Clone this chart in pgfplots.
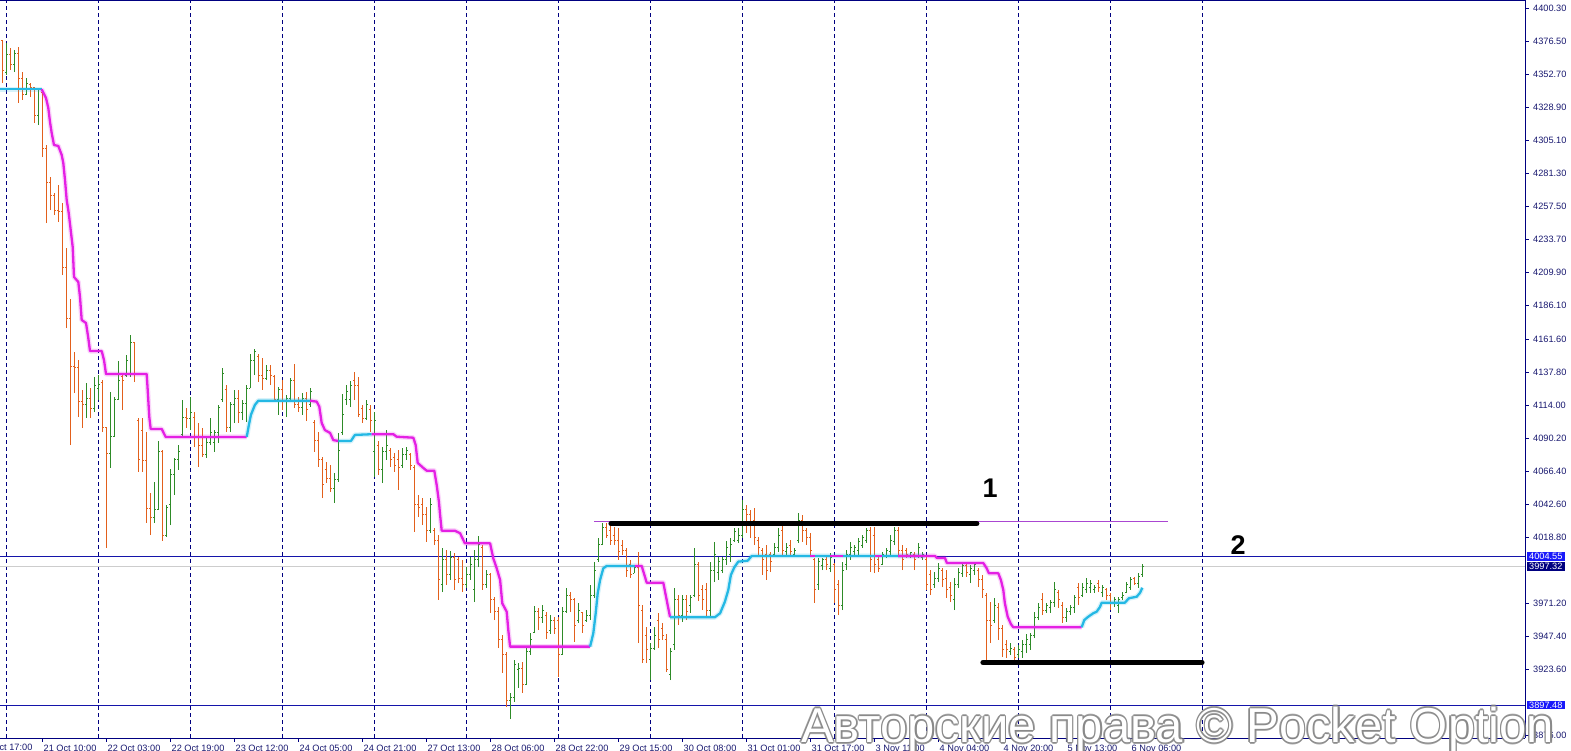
\documentclass[border=0pt]{standalone}
\usepackage{pgfplots}
\pgfplotsset{compat=1.18}
\usepackage{pgfplotstable}
\usepackage{fontspec}
\setmainfont{Liberation Sans}
\definecolor{barup}{RGB}{46,139,40}
\definecolor{bardn}{RGB}{226,96,28}
\definecolor{mag}{RGB}{228,32,228}
\definecolor{cy}{RGB}{36,184,228}
\definecolor{navyc}{RGB}{0,0,128}
\definecolor{hline}{RGB}{20,20,170}
\definecolor{greyl}{RGB}{205,205,205}
\definecolor{purp}{RGB}{170,70,210}
\definecolor{lblblue}{RGB}{25,25,250}
\definecolor{lbl}{RGB}{25,25,112}
\definecolor{wmgrey}{RGB}{135,135,135}
\newcommand{\tf}{\fontsize{9.2pt}{11pt}\selectfont}
\newcommand{\wmf}{\fontsize{49pt}{49pt}\selectfont}
\tikzset{
  magl/.style={draw=mag, line width=2.3pt, line join=round, preaction={draw=mag, line width=5pt, draw opacity=0.18}},
  cyl/.style={draw=cy, line width=2.3pt, line join=round, preaction={draw=cy, line width=5pt, draw opacity=0.18}},
}
\pgfplotsset{
  hl/.style={draw=none, mark=none, forget plot, error bars/.cd, y dir=plus, y explicit, error mark=none, error bar style={draw=#1, draw opacity=1, line width=1.2pt}},
  tkl/.style={draw=none, mark=none, forget plot, error bars/.cd, x dir=minus, x explicit, error mark=none, error bar style={draw=#1, draw opacity=1, line width=1pt}},
  tkr/.style={draw=none, mark=none, forget plot, error bars/.cd, x dir=plus, x explicit, error mark=none, error bar style={draw=#1, draw opacity=1, line width=1pt}},
}

\pgfplotstableread{
k o h l c
1 4354.1 4375.1 4352.0 4366.4
3 4359.2 4370.0 4354.1 4367.8
6 4337.6 4349.8 4337.6 4346.2
9 4323.1 4342.6 4315.9 4341.2
21 4114.0 4129.7 4104.6 4119.0
23 4111.8 4134.2 4108.9 4128.3
24 4126.2 4135.6 4117.6 4129.0
27 4078.7 4123.4 4068.6 4090.9
28 4090.9 4119.7 4090.9 4118.3
29 4118.3 4145.7 4117.6 4132.0
31 4134.9 4150.0 4134.2 4146.4
32 4137.0 4164.5 4134.2 4158.7
38 4032.5 4058.5 4028.9 4038.3
39 4038.3 4088.3 4038.3 4080.1
41 4019.5 4041.9 4018.8 4040.4
42 4041.9 4067.8 4027.4 4063.5
43 4063.5 4075.8 4049.1 4074.4
44 4074.4 4085.1 4067.1 4080.8
45 4092.4 4117.6 4090.2 4105.3
47 4104.6 4119.7 4095.9 4108.9
51 4078.0 4090.9 4075.8 4086.6
52 4086.6 4104.6 4085.1 4094.5
53 4086.6 4095.9 4080.1 4093.8
54 4093.8 4114.0 4086.6 4112.5
55 4117.6 4140.7 4116.2 4137.0
57 4097.4 4116.2 4094.5 4114.0
58 4114.0 4124.8 4101.0 4119.0
60 4108.9 4117.6 4103.1 4115.4
61 4115.4 4128.3 4101.7 4126.2
62 4126.2 4150.8 4126.2 4146.4
63 4146.4 4154.4 4135.6 4152.2
66 4133.4 4142.5 4132.0 4138.9
69 4117.6 4127.0 4106.8 4124.8
71 4116.2 4121.2 4105.3 4119.0
72 4119.0 4133.4 4116.2 4132.0
75 4112.5 4122.6 4106.8 4119.0
77 4114.0 4126.2 4112.5 4123.4
83 4054.1 4064.9 4043.3 4059.9
84 4059.9 4093.8 4058.5 4081.5
85 4094.5 4121.9 4092.4 4106.8
86 4117.6 4128.3 4114.0 4123.4
87 4117.6 4131.3 4112.5 4128.3
91 4104.6 4117.6 4103.1 4114.0
93 4080.1 4108.9 4062.0 4103.1
95 4067.1 4083.7 4057.7 4080.1
96 4080.1 4095.9 4074.4 4085.1
100 4070.7 4083.0 4068.6 4078.0
101 4078.0 4083.7 4074.4 4081.5
107 4023.6 4046.9 4021.7 4041.9
110 3984.2 4010.9 3979.1 4002.2
112 3991.4 4008.7 3987.8 4003.7
116 3984.2 3997.1 3982.0 3991.4
117 3991.4 4004.4 3987.8 3998.6
118 3980.6 4009.4 3971.9 4002.2
119 4002.2 4019.5 3997.1 4013.4
121 3984.2 3994.9 3982.0 3991.4
127 3901.2 3906.3 3887.5 3902.7
128 3902.7 3930.1 3899.8 3926.5
129 3922.9 3927.9 3909.9 3924.3
131 3912.1 3938.7 3912.1 3935.9
132 3935.9 3949.8 3933.7 3945.2
133 3949.8 3969.0 3949.8 3964.7
135 3960.4 3969.7 3956.8 3966.1
137 3951.7 3962.5 3949.1 3958.9
140 3933.7 3968.3 3933.7 3964.7
141 3964.7 3982.0 3964.0 3976.9
144 3958.9 3971.2 3956.8 3966.1
146 3958.9 3966.1 3957.5 3962.5
147 3962.5 3984.2 3958.9 3976.9
148 3976.9 4000.8 3974.8 3994.9
149 4002.2 4018.1 4000.8 4013.4
150 4013.4 4028.9 4013.0 4025.3
158 3992.8 3998.6 3992.8 3997.1
162 3930.1 3942.3 3915.6 3938.7
163 3938.7 3953.9 3937.3 3948.1
167 3919.3 3938.7 3915.6 3935.9
168 3940.9 3982.0 3937.3 3973.4
170 3962.5 3976.9 3957.5 3973.4
172 3969.7 3976.9 3964.0 3974.8
173 3976.9 4011.0 3975.5 3998.6
177 3966.1 4000.8 3961.1 3994.9
178 3994.9 4015.2 3986.3 4005.8
179 3993.5 4004.4 3987.8 4000.8
180 3994.9 4004.4 3992.8 4002.2
181 4002.2 4016.0 3998.6 4010.9
182 4005.8 4018.1 4000.8 4013.4
183 4016.6 4025.3 4015.2 4022.4
184 4016.6 4025.3 4014.5 4020.2
185 4020.2 4045.5 4018.1 4038.3
193 4005.8 4014.5 4004.4 4010.9
194 4010.9 4025.3 4008.0 4020.2
196 4008.0 4014.5 4004.4 4010.9
198 4005.8 4010.9 4004.4 4009.4
199 4016.6 4036.1 4014.5 4030.5
204 3984.2 4003.7 3980.6 4000.8
205 3997.9 4003.7 3994.9 4002.2
207 3996.4 4007.3 3993.5 4003.7
210 3969.7 4000.8 3966.1 3994.9
211 3998.6 4009.4 3994.9 4005.8
212 4005.8 4015.2 4002.2 4010.9
213 4008.0 4013.0 4004.4 4010.9
214 4009.4 4018.1 4005.8 4015.2
215 4013.0 4020.2 4010.9 4018.1
216 4016.6 4025.3 4014.5 4023.6
220 3998.6 4008.0 3998.6 4005.8
221 4005.1 4010.9 4003.7 4009.4
222 4008.0 4020.2 4004.4 4016.6
223 4015.2 4026.0 4013.0 4023.6
227 4004.4 4008.0 4003.7 4007.3
229 4005.1 4014.5 4003.7 4010.9
230 4003.7 4008.0 4002.2 4006.5
233 3984.2 3993.5 3982.0 3989.2
234 3989.2 4000.0 3986.3 3996.4
238 3973.4 3989.2 3966.1 3984.2
239 3984.2 3996.4 3982.0 3993.5
240 3992.8 4000.0 3990.0 3997.9
242 3991.4 3998.6 3985.6 3996.4
243 3994.9 4000.0 3991.4 3998.6
248 3958.9 3974.8 3956.8 3969.7
252 3935.9 3942.3 3933.7 3938.7
254 3933.7 3940.9 3931.5 3937.3
255 3935.9 3944.5 3931.5 3940.9
256 3940.9 3949.1 3935.1 3944.5
257 3940.9 3949.8 3937.3 3948.1
258 3948.1 3964.7 3945.9 3960.4
259 3960.4 3971.2 3958.9 3967.6
261 3966.1 3971.2 3964.0 3969.7
262 3967.6 3973.4 3964.0 3971.2
263 3971.2 3986.3 3968.3 3980.6
266 3960.4 3967.6 3957.5 3964.7
267 3964.7 3969.7 3962.5 3967.6
268 3967.6 3976.9 3964.0 3974.8
270 3976.9 3985.6 3975.5 3982.0
271 3980.6 3989.2 3978.4 3985.6
272 3982.0 3987.8 3978.4 3985.6
273 3980.6 3984.2 3978.4 3982.7
275 3979.1 3984.2 3975.5 3982.0
278 3971.2 3975.5 3968.3 3973.4
279 3969.7 3975.5 3964.0 3973.4
280 3974.8 3979.1 3973.4 3976.9
281 3979.1 3986.3 3978.4 3984.2
282 3982.0 3990.0 3980.6 3987.8
284 3985.6 3992.8 3982.0 3990.0
285 3991.4 3999.4 3990.0 3997.3
}\upbars

\pgfplotstableread{
k o h l c
0 4376.5 4377.2 4346.2 4354.9
2 4366.4 4371.5 4355.6 4359.2
4 4367.8 4372.2 4331.8 4349.8
5 4349.8 4354.1 4334.0 4337.6
7 4344.8 4346.2 4336.1 4342.6
8 4342.6 4343.3 4317.4 4323.1
10 4339.7 4341.2 4292.8 4299.3
11 4299.3 4301.5 4245.2 4274.1
12 4274.1 4278.4 4254.6 4265.4
13 4265.4 4266.9 4251.0 4254.6
14 4254.6 4272.6 4245.9 4253.2
15 4253.2 4259.7 4207.7 4212.8
16 4212.8 4227.2 4169.5 4176.0
17 4176.0 4190.4 4085.1 4141.4
18 4141.4 4152.2 4122.6 4140.7
19 4140.7 4146.4 4105.3 4116.2
20 4116.2 4124.8 4097.4 4114.0
22 4119.0 4126.2 4104.6 4111.8
25 4130.5 4132.0 4094.5 4097.4
26 4097.4 4098.1 4010.9 4078.7
30 4134.2 4135.6 4110.4 4132.0
33 4158.7 4159.4 4130.5 4137.0
34 4103.1 4104.6 4065.7 4074.4
35 4095.9 4104.6 4065.7 4073.6
36 4073.6 4094.5 4028.9 4039.0
37 4039.0 4050.5 4020.2 4032.5
40 4080.1 4081.5 4015.9 4019.5
46 4105.3 4111.8 4097.4 4104.6
48 4105.3 4108.9 4083.7 4090.9
49 4090.9 4101.0 4069.3 4085.1
50 4085.1 4097.4 4076.5 4078.0
56 4124.8 4128.3 4094.5 4097.4
59 4119.0 4124.8 4101.0 4108.9
64 4149.3 4150.8 4130.5 4135.6
65 4135.6 4147.9 4124.8 4133.4
67 4138.9 4142.5 4128.3 4135.6
68 4134.2 4135.6 4116.2 4117.6
70 4124.8 4132.0 4110.4 4116.2
73 4132.0 4143.9 4111.8 4114.0
74 4114.0 4119.7 4108.9 4112.5
76 4119.0 4123.4 4102.4 4110.4
78 4101.7 4103.1 4080.1 4088.3
79 4088.3 4094.5 4069.3 4074.4
80 4074.4 4076.5 4046.9 4056.3
81 4067.1 4072.9 4057.7 4061.3
82 4061.3 4070.7 4051.2 4054.1
88 4132.0 4137.8 4117.6 4128.3
89 4128.3 4134.2 4105.3 4106.8
90 4111.8 4114.0 4101.0 4104.6
92 4110.4 4114.0 4094.5 4103.1
94 4085.1 4088.0 4063.5 4067.1
97 4081.5 4083.0 4069.3 4074.4
98 4075.8 4079.4 4065.7 4070.7
99 4074.4 4081.5 4052.7 4068.6
102 4078.0 4079.4 4067.1 4070.7
103 4068.6 4070.7 4022.4 4041.9
104 4041.9 4049.1 4033.2 4039.7
105 4041.9 4046.9 4027.4 4034.7
106 4034.7 4040.4 4015.2 4023.6
108 4023.6 4025.3 4013.0 4016.6
109 4016.6 4020.2 3973.4 3987.8
111 4002.2 4009.4 3984.2 3991.4
113 4003.7 4007.3 3980.6 3987.8
114 4002.2 4004.4 3985.6 3989.2
115 3989.2 4002.2 3979.1 3984.2
120 4010.9 4013.0 3980.6 3984.2
122 3991.4 3992.8 3964.0 3973.4
123 3973.4 3975.5 3958.9 3964.7
124 3964.7 3968.3 3938.7 3944.5
125 3944.5 3948.1 3920.7 3933.7
126 3933.7 3935.9 3896.2 3901.2
130 3924.3 3928.6 3906.3 3912.1
134 3964.7 3967.6 3951.7 3960.4
136 3962.5 3964.7 3945.2 3949.8
138 3958.9 3961.1 3949.1 3953.1
139 3958.9 3961.1 3917.8 3933.7
142 3976.9 3979.1 3964.7 3973.4
143 3973.4 3974.8 3943.1 3955.3
145 3964.0 3964.7 3949.8 3955.3
151 4025.3 4028.9 4018.1 4020.2
152 4023.6 4028.9 4013.0 4016.6
153 4020.2 4026.0 4013.0 4016.6
154 4016.6 4025.3 4002.2 4008.0
155 4013.0 4016.6 4005.8 4009.4
156 4009.4 4011.0 3990.0 3994.9
157 3998.6 4002.2 3989.2 3991.4
159 3997.1 4008.0 3942.3 3969.7
160 3966.1 3969.7 3927.9 3930.1
161 3948.1 3953.9 3927.9 3937.3
164 3958.9 3964.0 3938.7 3944.5
165 3953.1 3956.8 3944.5 3948.1
166 3944.5 3949.1 3921.4 3922.9
169 3973.4 3976.9 3955.3 3962.5
171 3973.4 3976.9 3958.9 3964.7
174 3998.6 4000.8 3972.6 3976.9
175 3980.6 3984.2 3966.1 3973.4
176 3980.6 3985.6 3961.1 3966.1
186 4038.3 4041.9 4021.7 4034.7
187 4034.7 4038.3 4018.1 4027.4
188 4030.5 4039.7 4013.0 4018.1
189 4016.6 4018.8 4005.8 4010.9
190 4009.4 4010.9 3991.4 4002.2
191 4005.8 4013.0 3987.8 3994.9
192 4005.8 4008.0 3993.5 4000.8
195 4023.6 4027.4 4005.8 4009.4
197 4013.0 4016.6 4004.4 4008.0
200 4030.5 4034.7 4015.2 4023.6
201 4023.6 4025.3 4013.0 4018.1
202 4018.1 4021.7 4004.4 4009.4
203 4002.2 4003.7 3971.2 3980.6
206 4002.2 4004.4 3994.9 3998.6
208 3998.6 4000.0 3971.2 3980.6
209 3984.2 3987.8 3962.5 3969.7
217 4023.6 4026.0 3993.5 4002.2
218 4020.2 4026.0 3992.8 3998.6
219 4002.2 4004.4 3993.5 3996.4
224 4023.6 4026.0 4005.8 4009.4
225 4009.4 4013.0 3994.9 4002.2
226 4009.4 4011.0 4003.7 4005.8
228 4005.8 4008.0 3994.9 4002.2
231 4002.2 4004.4 3980.6 3984.2
232 3991.4 3994.9 3976.9 3980.6
235 3994.9 3996.4 3982.7 3987.8
236 3989.2 3994.9 3974.8 3980.6
237 3982.0 3986.3 3971.9 3976.9
241 3997.9 4000.0 3990.0 3993.5
244 3994.9 3996.4 3982.7 3987.8
245 3987.8 3991.4 3974.8 3980.6
246 3976.9 3978.4 3928.6 3958.9
247 3958.9 3971.9 3942.3 3955.3
249 3967.6 3971.2 3944.5 3953.1
250 3953.1 3955.3 3932.2 3937.3
251 3940.9 3944.5 3931.5 3937.3
253 3937.3 3939.4 3930.1 3932.2
260 3973.4 3978.4 3962.5 3966.1
264 3979.1 3980.6 3967.6 3973.4
265 3969.7 3971.9 3956.8 3960.4
269 3982.0 3985.6 3969.7 3974.8
274 3985.6 3987.8 3979.1 3982.0
276 3980.6 3982.0 3973.4 3976.9
277 3976.9 3978.4 3966.1 3971.9
283 3988.5 3990.0 3984.2 3985.6
}\dnbars

\begin{document}
\begin{tikzpicture}
\path[use as bounding box] (0,-13pt) rectangle (1571pt,738pt);
\begin{axis}[
  at={(0,0)}, anchor=south west,
  scale only axis, width=1525pt, height=738pt,
  xmin=-0.625, xmax=380.625, ymin=3873.82, ymax=4406.07,
  axis x line*=bottom, axis y line*=right,
  axis line style={navyc, line width=0.9pt},
  clip=false,
  xtick={9.875,25.875,41.875,57.875,73.875,89.875,105.875,121.875,137.875,153.875,169.875,185.875,201.875,217.875,233.875,249.875,265.875,281.875},
  xticklabels={21 Oct 10:00,22 Oct 03:00,22 Oct 19:00,23 Oct 12:00,24 Oct 05:00,24 Oct 21:00,27 Oct 13:00,28 Oct 06:00,28 Oct 22:00,29 Oct 15:00,30 Oct 08:00,31 Oct 01:00,31 Oct 17:00,3 Nov 11:00,4 Nov 04:00,4 Nov 20:00,5 Nov 13:00,6 Nov 06:00},
  xticklabel style={anchor=north west, inner sep=0pt, xshift=1.5pt, yshift=-2.5pt, font=\tf, text=lbl},
  ytick={4400.30,4376.50,4352.70,4328.90,4305.10,4281.30,4257.50,4233.70,4209.90,4186.10,4161.60,4137.80,4114.00,4090.20,4066.40,4042.60,4018.80,3971.20,3947.40,3923.60,3876.00},
  yticklabels={4400.30,4376.50,4352.70,4328.90,4305.10,4281.30,4257.50,4233.70,4209.90,4186.10,4161.60,4137.80,4114.00,4090.20,4066.40,4042.60,4018.80,3971.20,3947.40,3923.60,3876.00},
  yticklabel style={anchor=west, inner sep=0pt, xshift=4pt, font=\tf, text=lbl},
  tick align=outside, major tick length=4pt,
  tick style={navyc, line width=0.8pt},
  extra x ticks={1,24,47,70,93,116,139,162,185,208,231,254,277,300},
  extra x tick labels={},
  extra x tick style={grid=major, major tick length=0pt},
  major grid style={navyc, line width=0.9pt, dash pattern=on 4pt off 3pt},
]
% horizontal lines
\addplot[hline, line width=1pt, forget plot] coordinates {(-0.625,4004.55) (380.625,4004.55)};
\addplot[greyl, line width=1pt, forget plot] coordinates {(-0.625,3997.32) (380.625,3997.32)};
\addplot[hline, line width=1pt, forget plot] coordinates {(-0.625,3897.48) (380.625,3897.48)};
% bars: high-low
\addplot[hl=barup] table[x=k, y=l, y error plus expr=\thisrow{h}-\thisrow{l}] {\upbars};
\addplot[hl=bardn] table[x=k, y=l, y error plus expr=\thisrow{h}-\thisrow{l}] {\dnbars};
% open (left) and close (right) ticks
\addplot[tkl=barup] table[x=k, y=o, x error expr=0.45] {\upbars};
\addplot[tkr=barup] table[x=k, y=c, x error expr=0.45] {\upbars};
\addplot[tkl=bardn] table[x=k, y=o, x error expr=0.45] {\dnbars};
\addplot[tkr=bardn] table[x=k, y=c, x error expr=0.45] {\dnbars};
% step lines
\addplot[cyl, forget plot] coordinates {(-0.625,4341.7) (9.8,4341.7)};
\addplot[magl, forget plot] coordinates {(9.8,4341.7) (10.875,4335.4) (11.45,4328.2) (11.875,4318.1) (12.3,4310.1) (12.875,4301.5) (13.95,4300.8) (14.8,4294.3) (15.2,4288.5) (15.625,4276.3) (16.05,4261.8) (16.55,4252.5) (17.05,4240.2) (17.55,4227.9) (17.875,4206.3) (18.95,4202.7) (19.375,4191.9) (19.8,4175.3) (20.875,4173.1) (21.45,4162.3) (21.875,4152.9) (24.8,4152.9) (25.375,4146.4) (25.875,4136.3) (36.05,4136.3) (36.3,4124.8) (36.7,4105.3) (37.05,4096.7) (39.8,4096.7) (40.8,4090.9) (61.05,4090.9)};
\addplot[cyl, forget plot] coordinates {(61.05,4090.9) (61.6,4099.6) (62.1,4106.8) (63.1,4114.0) (63.95,4117.1) (76.9,4117.1)};
\addplot[magl, forget plot] coordinates {(76.9,4117.1) (78.55,4116.4) (79.2,4112.8) (79.8,4101.0) (80.6,4095.9) (81.9,4093.8) (82.7,4088.7) (83.95,4088.0)};
\addplot[cyl, forget plot] coordinates {(83.95,4088.0) (87.1,4088.0) (88.1,4092.4) (92.3,4092.9)};
\addplot[magl, forget plot] coordinates {(92.3,4092.9) (97.7,4092.9) (98.55,4091.1) (102.7,4090.4) (103.3,4085.1) (103.8,4072.2) (105.2,4068.6) (106.05,4066.6) (107.95,4066.6) (108.55,4056.3) (109.1,4044.3) (109.4,4034.7) (109.8,4023.3) (113.1,4023.3) (114.4,4021.5) (115.6,4014.2) (121.9,4014.2) (122.7,4003.4) (123.55,3996.2) (124.4,3987.8) (124.95,3970.9) (126.05,3964.9) (126.45,3951.7) (126.9,3939.7) (146.9,3939.7)};
\addplot[cyl, forget plot] coordinates {(146.9,3939.7) (147.7,3949.3) (148.3,3963.8) (148.8,3978.2) (149.4,3987.8) (150.2,3996.2) (151.05,3997.9) (158.1,3997.9)};
\addplot[magl, forget plot] coordinates {(158.1,3997.9) (159.8,3997.9) (160.6,3990.2) (161.05,3985.8) (165.2,3985.8) (165.8,3977.0) (166.45,3967.4) (166.9,3960.9)};
\addplot[cyl, forget plot] coordinates {(166.9,3960.9) (178.1,3960.9) (179.4,3963.8) (180.6,3972.1) (181.45,3980.6) (182.1,3991.4) (182.95,3996.9) (183.95,4001.0) (186.3,4001.7) (187.3,4005.1) (230.6,4005.1)};
\addplot[mag, line width=2.3pt, forget plot, unbounded coords=jump] coordinates {(201.9,4005.1) (203.1,4005.1) (203.1,nan) (206.9,4005.1) (210.1,4005.1) (210.1,nan) (218.1,4005.1) (219.9,4005.1)};
\addplot[magl, forget plot] coordinates {(223.9,4005.1) (233.1,4005.1) (233.6,4003.7) (235.6,4003.7) (236.1,4000.0) (245.2,4000.0) (246.05,3996.2) (246.6,3992.6) (248.95,3992.6) (249.6,3987.8) (250.2,3980.6) (250.6,3970.9) (251.3,3961.3) (252.1,3956.0) (252.7,3953.7) (269.8,3953.7)};
\addplot[cyl, forget plot] coordinates {(269.8,3953.7) (270.45,3958.9) (271.45,3961.3) (272.7,3963.8) (273.55,3964.9) (274.4,3968.5) (274.8,3971.4) (280.6,3971.4) (281.6,3974.6) (283.55,3975.7) (284.4,3978.6) (284.95,3982.2)};
% drawn levels
\addplot[purp, line width=1pt, forget plot] coordinates {(147.9,4030.0) (291.4,4030.0)};
\addplot[black, line width=5pt, forget plot, line cap=round] coordinates {(152.1,4028.5) (243.6,4028.5)};
\addplot[black, line width=5pt, forget plot, line cap=round] coordinates {(245.1,3928.3) (299.9,3928.3)};
\node[font=\fontsize{27pt}{27pt}\selectfont\bfseries] at (axis cs:246.9,4054.1) {1};
\node[font=\fontsize{27pt}{27pt}\selectfont\bfseries] at (axis cs:308.9,4013.0) {2};
\draw[navyc, line width=0.9pt] (rel axis cs:0,1) -- (rel axis cs:1,1);
% first, partly hidden time label
\node[anchor=north west, inner sep=0pt, font=\tf, text=lbl, xshift=1.5pt, yshift=-6pt] at (axis cs:-6.125,3873.82) {20 Oct 17:00};
% price labels
\node[fill=lblblue, text=white, font=\tf, inner xsep=2.5pt, inner ysep=1pt, anchor=west, xshift=1.5pt] at (axis cs:380.625,4004.55) {4004.55};
\node[fill=navyc, text=white, font=\tf, inner xsep=2.5pt, inner ysep=1pt, anchor=west, xshift=1.5pt] at (axis cs:380.625,3997.32) {3997.32};
\node[fill=lblblue, text=white, font=\tf, inner xsep=2.5pt, inner ysep=1pt, anchor=west, xshift=1.5pt] at (axis cs:380.625,3897.48) {3897.48};
\end{axis}
% watermark
\foreach \dx/\dy in {-1.6/0,1.6/0,0/-1.6,0/1.6,-1.1/-1.1,1.1/1.1,-1.1/1.1,1.1/-1.1}{
  \node[anchor=base west, inner sep=0pt, text=wmgrey, opacity=0.75, font=\wmf, xshift=\dx pt, yshift=\dy pt] at (801pt,-4.5pt) {Авторские права © Pocket Option};
}
\node[anchor=base west, inner sep=0pt, text=white, font=\wmf] at (801pt,-4.5pt) {Авторские права © Pocket Option};
\end{tikzpicture}
\end{document}
